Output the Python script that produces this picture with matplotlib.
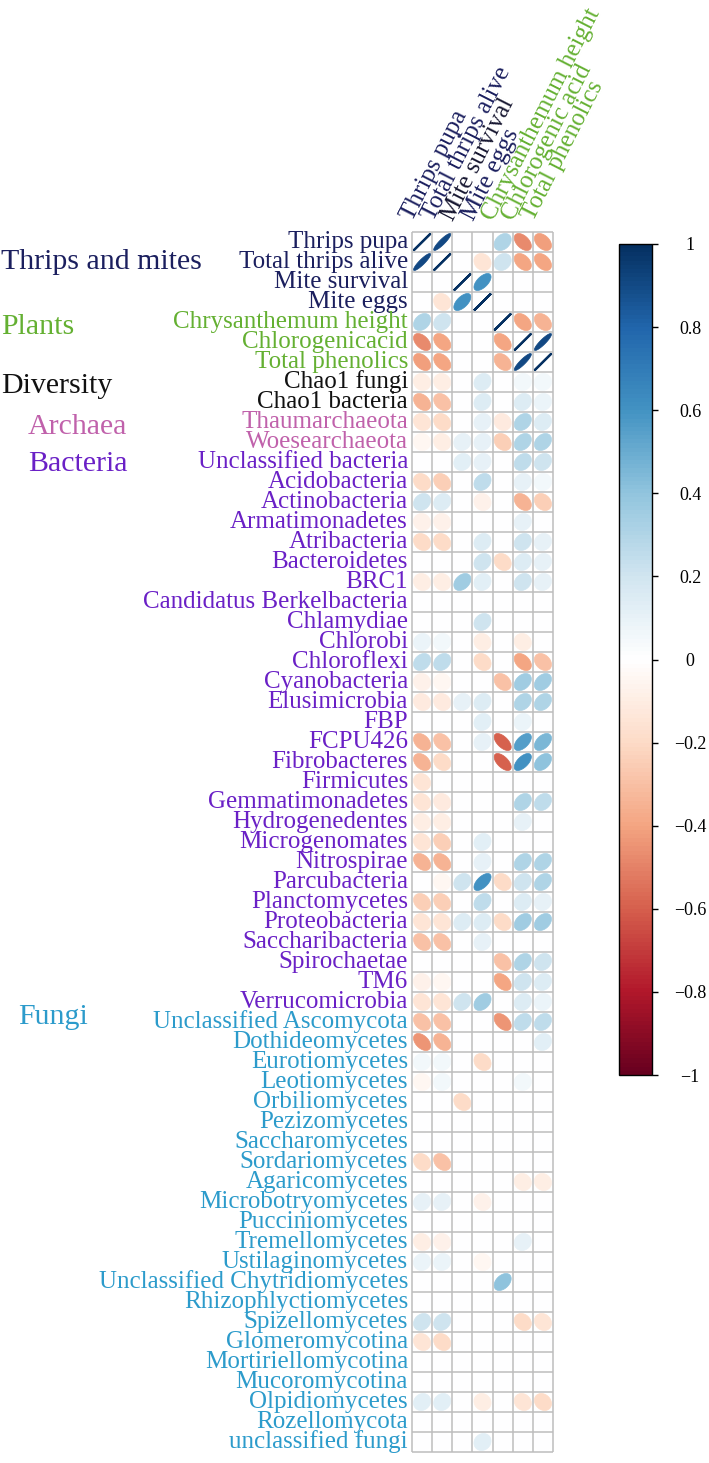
import numpy as np
import matplotlib
matplotlib.use("Agg")
import matplotlib.pyplot as plt
from matplotlib.colors import LinearSegmentedColormap, Normalize
from matplotlib.patches import Polygon
import matplotlib.cm as cm

plt.rcParams['font.family'] = ['Liberation Serif', 'DejaVu Serif']

# ---------------- data ----------------
columns = ["Thrips pupa", "Total thrips alive", "Mite survival", "Mite eggs",
           "Chrysanthemum height", "Chlorogenic acid", "Total phenolics"]

thrips_mites_names = ["Thrips pupa", "Total thrips alive", "Mite survival", "Mite eggs"]
thrips_mites_r = [
    [1.00, 0.90, 0.00, 0.00, 0.30, -0.48, -0.42],
    [0.90, 1.00, 0.00, -0.15, 0.20, -0.40, -0.40],
    [0.00, 0.00, 1.00, 0.60, 0.00, 0.00, 0.00],
    [0.00, -0.15, 0.60, 1.00, 0.00, 0.00, 0.00],
]

plants_names = ["Chrysanthemum height", "Chlorogenicacid", "Total phenolics"]
plants_r = [
    [0.30, 0.20, 0.00, 0.00, 1.00, -0.40, -0.35],
    [-0.48, -0.40, 0.00, 0.00, -0.40, 1.00, 0.90],
    [-0.42, -0.40, 0.00, 0.00, -0.35, 0.90, 1.00],
]

diversity_names = ["Chao1 fungi", "Chao1 bacteria"]
diversity_r = [
    [-0.10, -0.10, 0.00, 0.15, 0.00, 0.05, 0.05],
    [-0.35, -0.30, 0.00, 0.15, 0.00, 0.15, 0.08],
]

archaea_names = ["Thaumarchaeota", "Woesearchaeota"]
archaea_r = [
    [-0.15, -0.20, 0.00, 0.10, -0.12, 0.30, 0.15],
    [-0.05, -0.10, 0.10, 0.10, -0.25, 0.30, 0.30],
]

bacteria_names = ["Unclassified bacteria", "Acidobacteria", "Actinobacteria",
                  "Armatimonadetes", "Atribacteria", "Bacteroidetes", "BRC1",
                  "Candidatus Berkelbacteria", "Chlamydiae", "Chlorobi",
                  "Chloroflexi", "Cyanobacteria", "Elusimicrobia", "FBP",
                  "FCPU426", "Fibrobacteres", "Firmicutes", "Gemmatimonadetes",
                  "Hydrogenedentes", "Microgenomates", "Nitrospirae",
                  "Parcubacteria", "Planctomycetes", "Proteobacteria",
                  "Saccharibacteria", "Spirochaetae", "TM6", "Verrucomicrobia"]
bacteria_r = [
    [0.00, 0.00, 0.12, 0.10, 0.00, 0.25, 0.20],
    [-0.20, -0.25, 0.00, 0.25, 0.00, 0.10, 0.05],
    [0.20, 0.15, 0.00, -0.08, 0.00, -0.35, -0.25],
    [-0.08, -0.08, 0.00, 0.00, 0.00, 0.10, 0.00],
    [-0.20, -0.20, 0.00, 0.15, 0.00, 0.20, 0.10],
    [0.00, 0.00, 0.00, 0.20, -0.20, 0.15, 0.10],
    [-0.10, -0.10, 0.35, 0.12, 0.00, 0.20, 0.10],
    [0.00, 0.00, 0.00, 0.00, 0.00, 0.00, 0.00],
    [0.00, 0.00, 0.00, 0.20, 0.00, 0.00, 0.00],
    [0.08, 0.05, 0.00, -0.10, 0.00, -0.10, 0.00],
    [0.25, 0.25, 0.00, -0.20, 0.00, -0.40, -0.30],
    [-0.08, -0.05, 0.00, 0.00, -0.30, 0.35, 0.35],
    [-0.12, -0.12, 0.10, 0.15, 0.00, 0.30, 0.30],
    [0.00, 0.00, 0.00, 0.12, 0.00, 0.08, 0.00],
    [-0.35, -0.30, 0.00, 0.10, -0.60, 0.55, 0.45],
    [-0.35, -0.20, 0.00, 0.00, -0.60, 0.60, 0.40],
    [-0.15, 0.00, 0.00, 0.00, 0.00, 0.00, 0.00],
    [-0.15, -0.12, 0.00, 0.00, 0.00, 0.30, 0.25],
    [-0.10, -0.10, 0.00, 0.00, 0.00, 0.10, 0.00],
    [-0.15, -0.25, 0.00, 0.12, 0.00, 0.00, 0.00],
    [-0.35, -0.35, 0.00, 0.10, 0.00, 0.30, 0.30],
    [0.00, -0.05, 0.20, 0.60, -0.20, 0.20, 0.30],
    [-0.25, -0.25, 0.00, 0.25, 0.00, 0.15, 0.10],
    [-0.15, -0.15, 0.15, 0.15, -0.20, 0.35, 0.35],
    [-0.30, -0.30, 0.00, 0.10, 0.00, 0.00, 0.00],
    [0.00, 0.00, 0.00, 0.00, -0.30, 0.30, 0.20],
    [-0.08, -0.05, 0.00, 0.00, -0.40, 0.20, 0.15],
    [-0.15, -0.15, 0.20, 0.35, 0.00, 0.15, 0.08],
]

fungi_names = ["Unclassified Ascomycota", "Dothideomycetes", "Eurotiomycetes",
               "Leotiomycetes", "Orbiliomycetes", "Pezizomycetes",
               "Saccharomycetes", "Sordariomycetes", "Agaricomycetes",
               "Microbotryomycetes", "Pucciniomycetes", "Tremellomycetes",
               "Ustilaginomycetes", "Unclassified Chytridiomycetes",
               "Rhizophlyctiomycetes", "Spizellomycetes", "Glomeromycotina",
               "Mortiriellomycotina", "Mucoromycotina", "Olpidiomycetes",
               "Rozellomycota", "unclassified fungi"]
fungi_r = [
    [-0.30, -0.30, 0.00, 0.00, -0.45, 0.25, 0.25],
    [-0.45, -0.35, 0.00, 0.00, 0.00, 0.00, 0.12],
    [0.05, 0.05, 0.00, -0.20, 0.00, 0.00, 0.00],
    [-0.05, 0.05, 0.00, 0.00, 0.00, 0.05, 0.00],
    [0.00, 0.00, -0.20, 0.00, 0.00, 0.00, 0.00],
    [0.00, 0.00, 0.00, 0.00, 0.00, 0.00, 0.00],
    [0.00, 0.00, 0.00, 0.00, 0.00, 0.00, 0.00],
    [-0.20, -0.30, 0.00, 0.00, 0.00, 0.00, 0.00],
    [0.00, 0.00, 0.00, 0.00, 0.00, -0.10, -0.10],
    [0.10, 0.10, 0.00, -0.08, 0.00, 0.00, 0.00],
    [0.00, 0.00, 0.00, 0.00, 0.00, 0.00, 0.00],
    [-0.10, -0.08, 0.00, 0.00, 0.00, 0.10, 0.00],
    [0.08, 0.08, 0.00, -0.05, 0.00, 0.00, 0.00],
    [0.00, 0.00, 0.00, 0.00, 0.40, 0.00, 0.00],
    [0.00, 0.00, 0.00, 0.00, 0.00, 0.00, 0.00],
    [0.20, 0.20, 0.00, 0.00, 0.00, -0.20, -0.15],
    [-0.15, -0.20, 0.00, 0.00, 0.00, 0.00, 0.00],
    [0.00, 0.00, 0.00, 0.00, 0.00, 0.00, 0.00],
    [0.00, 0.00, 0.00, 0.00, 0.00, 0.00, 0.00],
    [0.12, 0.12, 0.00, -0.10, 0.00, -0.15, -0.20],
    [0.00, 0.00, 0.00, 0.00, 0.00, 0.00, 0.00],
    [0.00, 0.00, 0.00, 0.12, 0.00, 0.00, 0.00],
]

group_titles = ["Thrips and mites", "Plants", "Diversity", "Archaea", "Bacteria", "Fungi"]
colorbar_ticks = [1, 0.8, 0.6, 0.4, 0.2, 0, -0.2, -0.4, -0.6, -0.8, -1]

# ---------------- style ----------------
NAVY = "#1b1f5e"
GREEN = "#64b032"
BLACK = "#111111"
PINK = "#c061ab"
PURPLE = "#6a20c6"
TEAL = "#2c9bcb"

groups = [
    (thrips_mites_names, thrips_mites_r, NAVY),
    (plants_names, plants_r, GREEN),
    (diversity_names, diversity_r, BLACK),
    (archaea_names, archaea_r, PINK),
    (bacteria_names, bacteria_r, PURPLE),
    (fungi_names, fungi_r, TEAL),
]
row_names, row_vals, row_cols = [], [], []
for names, vals, col in groups:
    row_names += names
    row_vals += vals
    row_cols += [col] * len(names)
R = np.array(row_vals)
nrow, ncol = R.shape

col2 = ["#67001F", "#B2182B", "#D6604D", "#F4A582", "#FDDBC7", "#FFFFFF",
        "#D1E5F0", "#92C5DE", "#4393C3", "#2166AC", "#053061"]
cmap = LinearSegmentedColormap.from_list("corrRdBu", col2, N=200)
norm = Normalize(-1, 1)

W, H = 709, 1463
fig = plt.figure(figsize=(W / 100, H / 100), dpi=100)
gx0, gx1, gy0, gy1 = 412, 553, 232, 1452
ax = fig.add_axes([gx0 / W, 1 - gy1 / H, (gx1 - gx0) / W, (gy1 - gy0) / H])
ax.set_xlim(0, ncol)
ax.set_ylim(nrow, 0)
ax.axis("off")

t = np.linspace(0, 2 * np.pi, 99)
for i in range(nrow):
    for j in range(ncol):
        r = R[i, j]
        a = np.arccos(np.clip(r, -1, 1))
        ex = 0.425 * np.cos(t + a / 2)
        ey = 0.425 * np.cos(t - a / 2)
        c = cmap(norm(r))
        lw = 1.6 if abs(r) >= 0.999 else 0.5
        ax.add_patch(Polygon(np.column_stack([j + 0.5 + ex, i + 0.5 - ey]),
                             closed=True, fc=c, ec=c, lw=lw, zorder=2))

gridc = "#bdbdbd"
ax.vlines(np.arange(ncol + 1), 0, nrow, colors=gridc, lw=1.1, zorder=3, clip_on=False)
ax.hlines(np.arange(nrow + 1), 0, ncol, colors=gridc, lw=1.1, zorder=3, clip_on=False)

# row labels
for i, (name, col) in enumerate(zip(row_names, row_cols)):
    ax.text(-0.2, i + 0.5, name, ha="right", va="center", fontsize=18, color=col)

# column labels
col_colors = [NAVY, NAVY, "#161630", NAVY, GREEN, GREEN, GREEN]
for j, (name, col) in enumerate(zip(columns, col_colors)):
    ax.text(j + 0.05, -0.5, name, rotation=63, rotation_mode="anchor",
            ha="left", va="baseline", fontsize=18, color=col)

# group labels (pixel positions)
group_pos = [(1, 262), (1, 327), (1, 386), (28, 427), (28, 464), (18, 1017)]
group_cols = [NAVY, GREEN, BLACK, PINK, PURPLE, TEAL]
for title, (px, py), col in zip(group_titles, group_pos, group_cols):
    fig.text(px / W, 1 - py / H, title, ha="left", va="center", fontsize=21.5, color=col)

# colorbar
cb_top, cb_bot = 244, 1075
cax = fig.add_axes([619 / W, 1 - cb_bot / H, 33 / W, (cb_bot - cb_top) / H])
sm = cm.ScalarMappable(norm=norm, cmap=cmap)
cb = fig.colorbar(sm, cax=cax, ticks=colorbar_ticks)
cb.ax.set_yticklabels([("%g" % v).replace("-", "\u2212") for v in colorbar_ticks])
cb.outline.set_linewidth(1.0)
cax.tick_params(axis="y", length=4.5, width=1.0, labelsize=13, pad=23, direction="out")
for lab in cax.get_yticklabels():
    lab.set_ha("center")

fig.savefig("out.png", dpi=100)
